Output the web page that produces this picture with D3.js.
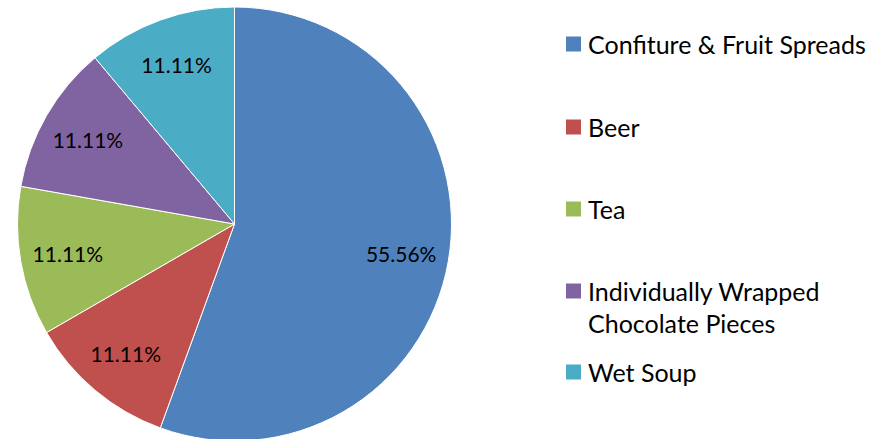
<!DOCTYPE html>
<html><head><meta charset="utf-8">
<script src="https://cdn.jsdelivr.net/npm/d3@7/dist/d3.min.js"></script>
<style>html,body{margin:0;padding:0;background:#fff;}svg{display:block;}</style>
</head><body>
<svg id="chart" width="890" height="439"></svg>
<script>
const categories = ["Confiture & Fruit Spreads", "Beer", "Tea", "Individually Wrapped Chocolate Pieces", "Wet Soup"];
const legendLines = [["Confiture & Fruit Spreads"], ["Beer"], ["Tea"], ["Individually Wrapped", "Chocolate Pieces"], ["Wet Soup"]];
const values = [5, 1, 1, 1, 1];
const colors = ["#4F81BD", "#C0504D", "#9BBB59", "#8064A2", "#4BACC6"];

const svg = d3.select("#chart");
const font = "Lato, 'Open Sans', sans-serif";
const cx = 234.5, cy = 224, R = 217;

const total = d3.sum(values);
const pie = d3.pie().sort(null).value(d => d)(values);
const arc = d3.arc().innerRadius(0).outerRadius(R);
const labelArc = d3.arc().innerRadius(R * 0.78).outerRadius(R * 0.78);
const fmt = v => (v / total * 100).toFixed(2) + "%";

const g = svg.append("g").attr("transform", `translate(${cx},${cy})`);
g.selectAll("path").data(pie).join("path")
  .attr("d", arc)
  .attr("fill", (d, i) => colors[i])
  .attr("stroke", "#fff").attr("stroke-width", 1);

g.selectAll("text").data(pie).join("text")
  .attr("transform", d => `translate(${labelArc.centroid(d)})`)
  .attr("text-anchor", "middle")
  .attr("dominant-baseline", "central")
  .style("font-family", font).style("font-size", "21px").attr("fill", "#000")
  .text(d => fmt(d.value));

const legendY = [44, 127, 209, 291, 372];
const lg = svg.append("g");
categories.forEach((c, i) => {
  lg.append("rect").attr("x", 566).attr("y", legendY[i] - 7.5).attr("width", 15).attr("height", 15).attr("fill", colors[i]);
  legendLines[i].forEach((line, j) => {
    lg.append("text").attr("x", 588).attr("y", legendY[i] + j * 32)
      .attr("dominant-baseline", "central")
      .style("font-family", font).style("font-size", "25px").attr("fill", "#000")
      .text(line);
  });
});
</script>
</body></html>
